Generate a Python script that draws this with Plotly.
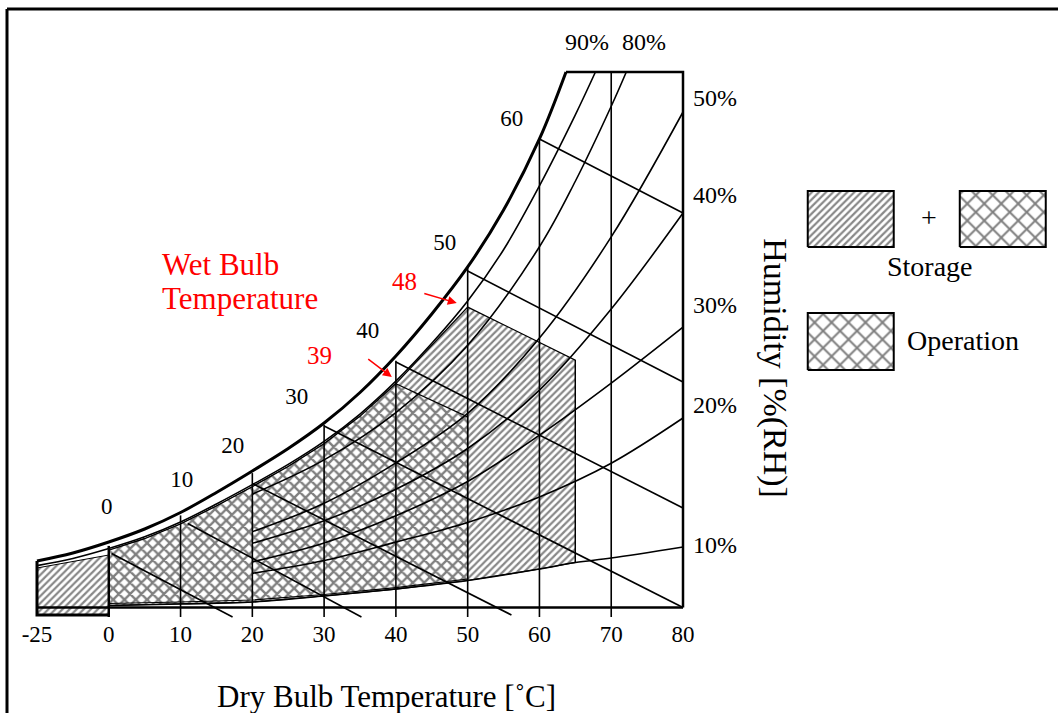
import plotly.graph_objects as go

# ---------------- data (T in deg C, w = chart humidity units, 0 = base line, 100 = top line)
tick_T = [-25, 0, 10, 20, 30, 40, 50, 60, 70, 80]
tick_labels = ["-25", "0", "10", "20", "30", "40", "50", "60", "70", "80"]

sat_T = [-25, -12.5, 0, 5, 10, 15, 20, 25, 30, 35, 40, 45, 50, 55, 60, 63.7]
sat_w = [8.68, 10.18, 12.23, 14.66, 17.74, 21.48, 25.49, 29.69, 34.45, 40.15, 46.97, 54.81, 63.59, 74.23, 87.49, 100.0]

rh90_T = [-25, -12.5, 0, 5, 10, 15, 20, 25, 30, 35, 40, 45, 50, 55, 60, 65, 67.8]
rh90_w = [7.82, 9.16, 11.01, 13.19, 15.97, 19.33, 22.94, 26.72, 31.01, 36.13, 42.27, 49.33, 57.23, 66.81, 78.74, 92.0, 100.0]

rh80_T = [20, 30, 40, 50, 60, 65, 70, 72.1]
rh80_w = [21.16, 27.56, 36.4, 48.96, 67.36, 79.6, 93.6, 100.0]

rh_T = [20, 30, 40, 50, 60, 70, 80]
rh50_w = [14.15, 19.46, 27.0, 36.25, 50.31, 69.21, 92.53]
rh40_w = [11.99, 16.19, 22.07, 29.69, 40.6, 55.74, 73.67]
rh30_w = [8.53, 12.06, 17.14, 23.53, 32.19, 41.92, 52.38]
rh20_w = [6.37, 8.78, 12.21, 15.89, 20.65, 26.95, 35.39]

rh10_T = [0, 10, 20, 30, 40, 50, 60, 65, 70, 80]
rh10_w = [0.37, 0.65, 1.03, 2.15, 3.45, 5.04, 7.19, 8.40, 9.24, 11.30]

# dry bulb lines: tops read on the saturation line
db_T = [0, 10, 20, 30, 40, 50, 60, 70]
db_top = [11.5, 17.2, 25.1, 34.1, 46.1, 63.6, 87.5, 100.0]
db_bottom = -1.77

# wet bulb lines: start / end points
wb_start_T = [0.4, 11, 20, 30, 40, 50, 60]
wb_start_w = [10.1, 15.7, 23.16, 33.9, 45.84, 62.84, 87.49]
wb_end_T = [17.25, 35.2, 56.1, 80, 80, 80, 80]
wb_end_w = [-1.77, -1.77, -1.4, 0.0, 18.58, 42.11, 73.67]
wb_labels = ["0", "10", "20", "30", "40", "50", "60"]

# storage / operation envelopes
env_top_T = [0, 5, 10, 15, 20, 25, 30, 35, 40, 45, 50]
env_top_w = [10.7, 12.85, 15.6, 18.95, 22.55, 26.35, 30.6, 35.7, 41.8, 48.85, 56.1]
storage_wb48_end = (65, 46.2)
storage_right_T = 65
op_wb39_end = (50, 35.6)
op_bot_T = [0, 10, 20, 30, 40, 50]
op_bot_w = [0.75, 1.03, 1.40, 2.43, 3.73, 5.32]
cold_box_T = [-25, 0, 0, -25]
cold_box_w = [7.38, 9.8, -1.4, -1.4]


def xu(t):
    """compressed scale below 0 deg C (-25 drawn at the place of -10)"""
    return t if t >= 0 else t * 0.4


def X(ts):
    return [xu(t) for t in ts]


FONT = "Liberation Serif, Times New Roman, serif"
BLK = "black"
fig = go.Figure()

# ---------- hatched storage regions
hatch = dict(shape="/", size=5, solidity=0.45, fgcolor="#111", bgcolor="white")
fig.add_trace(go.Scatter(x=X(cold_box_T), y=cold_box_w, fill="toself", mode="lines",
                         line=dict(color=BLK, width=1), fillpattern=hatch, fillcolor="white"))

i10 = rh10_T.index(storage_right_T)
st_x = X(env_top_T) + [xu(storage_wb48_end[0]), xu(storage_right_T)] + X(rh10_T[:i10 + 1][::-1])
st_y = env_top_w + [storage_wb48_end[1], rh10_w[i10]] + rh10_w[:i10 + 1][::-1]
fig.add_trace(go.Scatter(x=st_x, y=st_y, fill="toself", mode="lines",
                         line=dict(color=BLK, width=1.2), fillpattern=hatch, fillcolor="white"))

# ---------- cross hatched operation region
cross = dict(shape="x", size=8, solidity=0.5, fgcolor="black", bgcolor="white")
k40 = env_top_T.index(40)
op_x = X(env_top_T[:k40 + 1]) + [xu(op_wb39_end[0]), xu(op_bot_T[-1])] + X(op_bot_T[::-1])
op_y = env_top_w[:k40 + 1] + [op_wb39_end[1], op_bot_w[-1]] + op_bot_w[::-1]
fig.add_trace(go.Scatter(x=op_x, y=op_y, fill="toself", mode="lines",
                         line=dict(color=BLK, width=1.2), fillpattern=cross, fillcolor="white"))

# ---------- RH curves
def curve(ts, ws, width=1.6):
    fig.add_trace(go.Scatter(x=X(ts), y=ws, mode="lines",
                             line=dict(color=BLK, width=width, shape="spline", smoothing=1.0)))

curve(rh90_T, rh90_w)
curve(rh80_T, rh80_w)
for ws in (rh50_w, rh40_w, rh30_w, rh20_w):
    curve(rh_T, ws)
curve(rh10_T, rh10_w)

# ---------- dry bulb lines
for t, top in zip(db_T, db_top):
    fig.add_trace(go.Scatter(x=[xu(t), xu(t)], y=[top, db_bottom], mode="lines",
                             line=dict(color=BLK, width=2.5 if t == 0 else 1.6)))

# ---------- wet bulb lines
for t0, w0, t1, w1 in zip(wb_start_T, wb_start_w, wb_end_T, wb_end_w):
    fig.add_trace(go.Scatter(x=[xu(t0), xu(t1)], y=[w0, w1], mode="lines", line=dict(color=BLK, width=1.6)))

# storage right edge
fig.add_trace(go.Scatter(x=[xu(storage_right_T)] * 2, y=[storage_wb48_end[1], rh10_w[i10]], mode="lines",
                         line=dict(color=BLK, width=1.2)))

# ---------- frame + saturation
fig.add_trace(go.Scatter(x=X(sat_T), y=sat_w, mode="lines",
                         line=dict(color=BLK, width=3, shape="spline", smoothing=1.0)))
fig.add_trace(go.Scatter(x=[xu(sat_T[-1]), xu(80), xu(80)], y=[100, 100, 0], mode="lines",
                         line=dict(color=BLK, width=2.5)))
fig.add_trace(go.Scatter(x=[xu(-25), xu(80)], y=[0, 0], mode="lines", line=dict(color=BLK, width=2.5)))
fig.add_trace(go.Scatter(x=[xu(-25), xu(-25), xu(0)], y=[sat_w[0], cold_box_w[2], cold_box_w[2]], mode="lines",
                         line=dict(color=BLK, width=3)))

# ---------- tick labels
fig.add_trace(go.Scatter(x=X(tick_T), y=[-5.3] * len(tick_T), mode="text", text=tick_labels,
                         textfont=dict(family=FONT, size=23, color=BLK)))
# wet bulb labels
wb_lab_x = [-0.28, 10.17, 17.28, 26.19, 36.08, 46.81, 56.14]
wb_lab_y = [18.58, 23.62, 29.97, 39.12, 51.45, 67.88, 91.04]
fig.add_trace(go.Scatter(x=wb_lab_x, y=wb_lab_y, mode="text", text=wb_labels,
                         textfont=dict(family=FONT, size=23, color=BLK)))

ann = []
def A(x, y, text, size=24, color=BLK, xanchor="center", **kw):
    ann.append(dict(x=x, y=y, xref="x", yref="y", text=text, showarrow=False, xanchor=xanchor,
                    yanchor="middle", font=dict(family=FONT, size=size, color=color), **kw))

A(66.6, 105.6, "90%")
A(74.5, 105.6, "80%")
for lab, y in zip(["50%", "40%", "30%", "20%", "10%"], [95.15, 77.03, 56.49, 37.82, 11.67]):
    A(81.1, y, lab, xanchor="left")

A(7.1, 64.0, "Wet Bulb", size=31, color="red", xanchor="left")
A(7.1, 57.7, "Temperature", size=31, color="red", xanchor="left")
A(41.24, 60.79, "48", size=25, color="red")
A(29.4, 46.97, "39", size=25, color="red")
for (tx, ty, hx, hy) in [(43.75, 58.73, 48.48, 56.86), (35.94, 46.6, 39.43, 43.04)]:
    ann.append(dict(x=hx, y=hy, ax=tx, ay=ty, xref="x", yref="y", axref="x", ayref="y", text="",
                    showarrow=True, arrowhead=2, arrowsize=1.2, arrowwidth=1.5, arrowcolor="red"))

A(38.73, -16.7, "Dry Bulb Temperature [˚C]", size=31)
A(92.8, 44.7, "Humidity [%(RH)]", size=34, textangle=90)

# ---------- legend
def box(x0, x1, y0, y1, pat):
    fig.add_trace(go.Scatter(x=[x0, x1, x1, x0, x0], y=[y0, y0, y1, y1, y0], fill="toself", mode="lines",
                             line=dict(color=BLK, width=2), fillpattern=pat, fillcolor="white"))

hatch_l = dict(shape="/", size=5, solidity=0.45, fgcolor="#111", bgcolor="white")
cross_l = dict(shape="x", size=12, solidity=0.3, fgcolor="black", bgcolor="white")
box(97.38, 109.36, 67.32, 77.78, hatch_l)
box(118.56, 130.54, 67.32, 77.78, cross_l)
box(97.38, 109.36, 44.35, 54.99, cross_l)
A(114.24, 72.9, "+", size=28)
A(114.38, 63.6, "Storage", size=28)
A(110.9, 49.8, "Operation", size=28, xanchor="left")

# outer border (top + left)
shapes = [
    dict(type="line", xref="paper", yref="paper", x0=7 / 1058, x1=1.0, y0=1 - 9 / 713, y1=1 - 9 / 713,
         line=dict(color=BLK, width=3)),
    dict(type="line", xref="paper", yref="paper", x0=7 / 1058, x1=7 / 1058, y0=1 - 9 / 713, y1=0,
         line=dict(color=BLK, width=3)),
]

fig.update_layout(
    width=1058, height=713, margin=dict(l=0, r=0, t=0, b=0),
    paper_bgcolor="white", plot_bgcolor="white", showlegend=False,
    xaxis=dict(range=[-15.155, 132.245], visible=False, fixedrange=True),
    yaxis=dict(range=[-19.70, 113.445], visible=False, fixedrange=True),
    annotations=ann, shapes=shapes,
)
fig.write_html("out.html", config={"displayModeBar": False},
               post_script="document.body.style.margin='0';")
